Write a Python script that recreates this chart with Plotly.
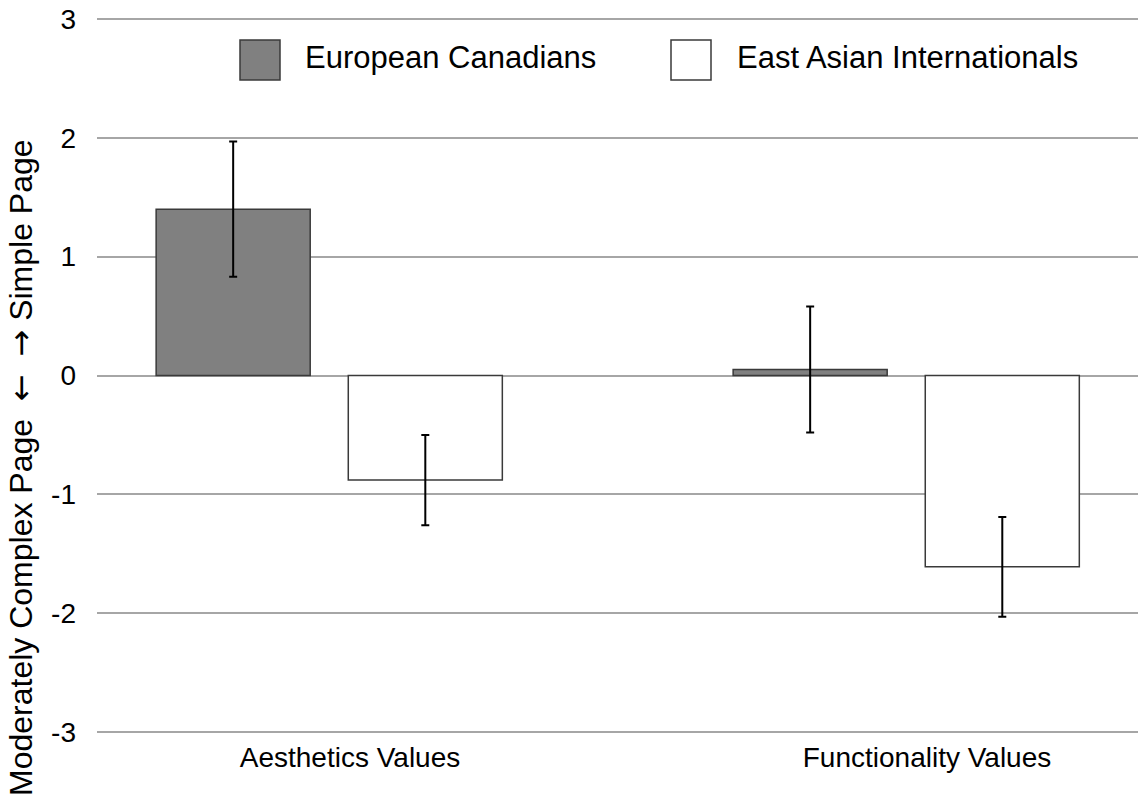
import plotly.graph_objects as go

categories = ["Aesthetics Values", "Functionality Values"]
series_names = ["European Canadians", "East Asian Internationals"]
ec_values = [1.40, 0.05]
ec_errors = [0.57, 0.53]
eai_values = [-0.88, -1.61]
eai_errors = [0.38, 0.42]
y_ticks = [-3, -2, -1, 0, 1, 2, 3]
y_pad = 0.017  # keeps the end gridlines (±3) visible

FONT = "Liberation Sans, Arial, sans-serif"
W, H = 1138, 804
ML, MR, MT, MB = 97, 0, 17, 70
PW = W - ML - MR
PH = H - MT - MB


def px_x(p):
    return (p - ML) / PW


def px_y(p):
    return (H - MB - p) / PH


fig = go.Figure()
fig.add_trace(go.Bar(
    name=series_names[0], x=categories, y=ec_values,
    width=0.267, offset=-0.336,
    marker=dict(color="#808080", line=dict(color="#3a3a3a", width=1.5)),
    error_y=dict(type="data", array=ec_errors, color="#000000", thickness=2, width=4),
    showlegend=False,
))
fig.add_trace(go.Bar(
    name=series_names[1], x=categories, y=eai_values,
    width=0.267, offset=-0.003,
    marker=dict(color="#ffffff", line=dict(color="#3a3a3a", width=1.5)),
    error_y=dict(type="data", array=eai_errors, color="#000000", thickness=2, width=4),
    showlegend=False,
))

# custom legend (large swatches like the original)
swatch_fills = ["#808080", "#ffffff"]
swatch_px = [240, 671]
text_px = [303, 735]
for i in range(2):
    fig.add_shape(type="rect", xref="paper", yref="paper",
                  x0=px_x(swatch_px[i]), x1=px_x(swatch_px[i] + 40),
                  y0=px_y(80), y1=px_y(40),
                  fillcolor=swatch_fills[i], line=dict(color="#3a3a3a", width=1.5))
    fig.add_annotation(text=series_names[i], xref="paper", yref="paper",
                       x=px_x(text_px[i]), y=px_y(58), xanchor="left", yanchor="middle",
                       showarrow=False, font=dict(family=FONT, size=31, color="#000000"))

arrow_style = "font-family:'DejaVu Sans'"
fig.add_annotation(
    text=("Moderately Complex Page  <span style=\"%s\">\u2190</span>  "
          "<span style=\"%s\">\u2192</span> Simple Page") % (arrow_style, arrow_style),
    xref="paper", yref="paper", x=px_x(21), y=px_y(468),
    textangle=-90, showarrow=False, xanchor="center", yanchor="middle",
    font=dict(family=FONT, size=32, color="#000000"))

fig.update_layout(
    width=W, height=H,
    margin=dict(l=ML, r=MR, t=MT, b=MB),
    paper_bgcolor="#ffffff", plot_bgcolor="#ffffff",
    barmode="group",
    font=dict(family=FONT, color="#000000"),
    xaxis=dict(type="category", range=[-0.4385, 1.3657], showgrid=False, zeroline=False,
               showline=False, ticks="", tickfont=dict(size=28, family=FONT),
               ticklabelstandoff=4, automargin=False),
    yaxis=dict(range=[y_ticks[0] - y_pad, y_ticks[-1] + y_pad], tickvals=y_ticks,
               ticktext=[str(v) for v in y_ticks], ticklabeloverflow="allow",
               showgrid=True, gridcolor="#a6a6a6", gridwidth=1.5, zeroline=False,
               showline=False, ticks="", tickfont=dict(size=28, family=FONT),
               ticklabelstandoff=20, automargin=False),
)

fig.write_html("out.html", config={"displayModeBar": False},
               post_script="document.body.style.margin='0';document.body.style.overflow='hidden';")
